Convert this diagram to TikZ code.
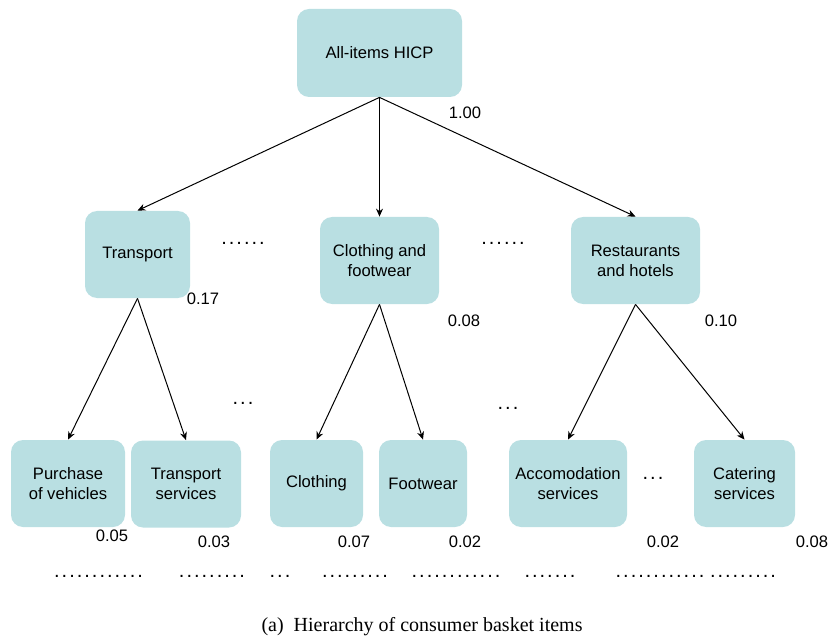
\documentclass[tikz,border=0pt]{standalone}
\usepackage{fontspec}
\setmainfont{Liberation Sans}
\newfontfamily\captionfont{Liberation Serif}
\usetikzlibrary{arrows.meta}
\definecolor{basket}{HTML}{B9DFE2}

\begin{document}
\begin{tikzpicture}[
  x=0.5pt, y=-0.5pt,
  box/.style={rectangle, rounded corners=6pt, fill=basket, inner sep=0pt, minimum height=43.5pt, align=center, font=\fontsize{8.3}{10}\selectfont},
  weight/.style={font=\fontsize{8.3}{10}\selectfont},
  more/.style={font=\fontsize{10}{12}\selectfont\addfontfeature{LetterSpace=10}},
  arrow/.style={-{Stealth[length=4pt, width=3.5pt]}, line width=0.5pt}
]
  \useasboundingbox (0,0) rectangle (829,636);

  % top level
  \node[box, minimum width=82.5pt, minimum height=44pt] (hicp) at (379.5,53) {All-items HICP};

  % first level
  \node[box, minimum width=52.5pt] (transport) at (137.5,254.5) {Transport};
  \node[box, minimum width=59.5pt] (clothfoot) at (379.5,260.5) {Clothing and\\footwear};
  \node[box, minimum width=64.5pt] (resthotel) at (635.5,260.5) {Restaurants\\and hotels};

  % second level
  \node[box, minimum width=57pt] (vehicles) at (68,483.5) {Purchase\\of vehicles};
  \node[box, minimum width=55pt] (transserv) at (186,484) {Transport\\services};
  \node[box, minimum width=46.5pt] (clothing) at (316.5,483.5) {Clothing};
  \node[box, minimum width=44pt] (footwear) at (423,483.5) {Footwear};
  \node[box, minimum width=59pt] (accom) at (568,483.5) {Accomodation\\services};
  \node[box, minimum width=50.5pt] (catering) at (744.5,483.5) {Catering\\services};

  % weights
  \node[weight] (w-hicp) at (465,113) {1.00};
  \node[weight] (w-transport) at (203,299) {0.17};
  \node[weight] (w-clothfoot) at (464,321) {0.08};
  \node[weight] (w-resthotel) at (721,321) {0.10};
  \node[weight] (w-vehicles) at (112,536) {0.05};
  \node[weight] (w-transserv) at (214,542) {0.03};
  \node[weight] (w-clothing) at (354,542) {0.07};
  \node[weight] (w-footwear) at (465,542) {0.02};
  \node[weight] (w-accom) at (663,542) {0.02};
  \node[weight] (w-catering) at (812,542) {0.08};

  % omitted items
  \node[more] (m1) at (243,243) {......};
  \node[more] (m2) at (503,243) {......};
  \node[more] (m3) at (243,403) {...};
  \node[more] (m4) at (508,408) {...};
  \node[more] (m5) at (653,478) {...};
  \node[more] (b1) at (98.5,576) {............};
  \node[more] (b2) at (212,576) {.........};
  \node[more] (b3) at (280,576) {...};
  \node[more] (b4) at (355,576) {.........};
  \node[more] (b5) at (456,576) {............};
  \node[more] (b6) at (550,576) {.......};
  \node[more] (b7) at (660,576) {............};
  \node[more] (b8) at (743,576) {.........};

  \draw[arrow] (hicp.south) -- (transport.north);
  \draw[arrow] (hicp.south) -- (clothfoot.north);
  \draw[arrow] (hicp.south) -- (resthotel.north);
  \draw[arrow] (transport.south) -- (vehicles.north);
  \draw[arrow] (transport.south) -- (transserv.north);
  \draw[arrow] (clothfoot.south) -- (clothing.north);
  \draw[arrow] (clothfoot.south) -- (footwear.north);
  \draw[arrow] (resthotel.south) -- (accom.north);
  \draw[arrow] (resthotel.south) -- (catering.north);

  \node[font=\captionfont\fontsize{10}{12}\selectfont] (caption) at (422,627) {(a)\enspace Hierarchy of consumer basket items};
\end{tikzpicture}
\end{document}
